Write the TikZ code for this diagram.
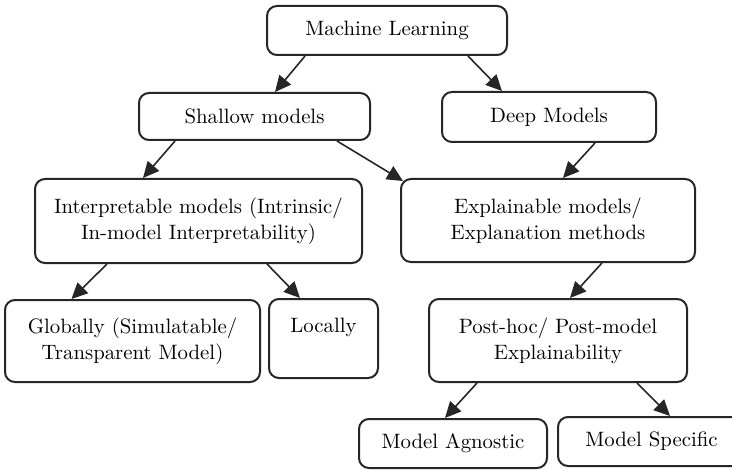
\documentclass[tikz,border=0pt]{standalone}
\usepackage{fontspec}
\usetikzlibrary{arrows.meta}

\begin{document}
\begin{tikzpicture}[x=0.5pt, y=-0.5pt,
    boite/.style={draw=black!85, line width=1pt, rounded corners=5pt,
        align=center, inner sep=0pt, font=\fontsize{10.4}{13}\selectfont},
    fleche/.style={draw=black!85, line width=0.8pt,
        -{Triangle[length=8pt,width=7.5pt]}}]

    % Cadre de la figure
    \useasboundingbox (0,0) rectangle (732,470);
    \clip (0,0) rectangle (732,470);

    % Niveau 1 et 2
    \node[boite, minimum width=120pt, minimum height=24.5pt] (ml) at (387,30.5) {Machine Learning};
    \node[boite, minimum width=115.5pt, minimum height=23.5pt] (shallow) at (254.5,116.5) {Shallow models};
    \node[boite, minimum width=107pt, minimum height=25pt] (deep) at (549,117) {Deep Models};

    % Niveau 3
    \node[boite, minimum width=163.5pt, minimum height=42pt] (interp) at (198.5,221)
        {Interpretable models (Intrinsic/\\In-model Interpretability)};
    \node[boite, minimum width=147pt, minimum height=41.5pt] (explain) at (548,220.5)
        {Explainable models/\\Explanation methods};

    % Niveau 4
    \node[boite, minimum width=127.5pt, minimum height=41pt] (global) at (132.5,341)
        {Globally (Simulatable/\\Transparent Model)};
    \node[boite, minimum width=54.5pt, minimum height=39.5pt] (local) at (323.5,338.5)
        {Locally\\\mbox{}};
    \node[boite, minimum width=129pt, minimum height=41.5pt] (posthoc) at (558,340.5)
        {Post-hoc/ Post-model\\Explainability};

    % Niveau 5
    \node[boite, minimum width=94pt, minimum height=24.5pt] (agnostic) at (453,443.5) {Model Agnostic};
    \node[boite, minimum width=93.5pt, minimum height=24.5pt] (specific) at (651.5,441.5) {Model Specific};

    % Flèches
    \draw[fleche] ([shift={(-82,0)}]ml.south) -- ([shift={(20.5,0)}]shallow.north);
    \draw[fleche] ([shift={(81,0)}]ml.south) -- ([shift={(-47,0)}]deep.north);
    \draw[fleche] ([shift={(-79.5,0)}]shallow.south) -- ([shift={(-55.5,0)}]interp.north);
    \draw[fleche] ([shift={(82.5,0)}]shallow.south) -- ([shift={(3,3)}]explain.north west);
    \draw[fleche] ([shift={(46,0)}]deep.south) -- ([shift={(15,0)}]explain.north);
    \draw[fleche] ([shift={(-91.5,0)}]interp.south) -- ([shift={(-61,0)}]global.north);
    \draw[fleche] ([shift={(68.5,0)}]interp.south) -- ([shift={(-23.5,0)}]local.north);
    \draw[fleche] ([shift={(54,0)}]explain.south) -- ([shift={(12,0)}]posthoc.north);
    \draw[fleche] ([shift={(-81,0)}]posthoc.south) -- ([shift={(-8,0)}]agnostic.north);
    \draw[fleche] ([shift={(79,0)}]posthoc.south) -- ([shift={(18.5,0)}]specific.north);

\end{tikzpicture}
\end{document}
